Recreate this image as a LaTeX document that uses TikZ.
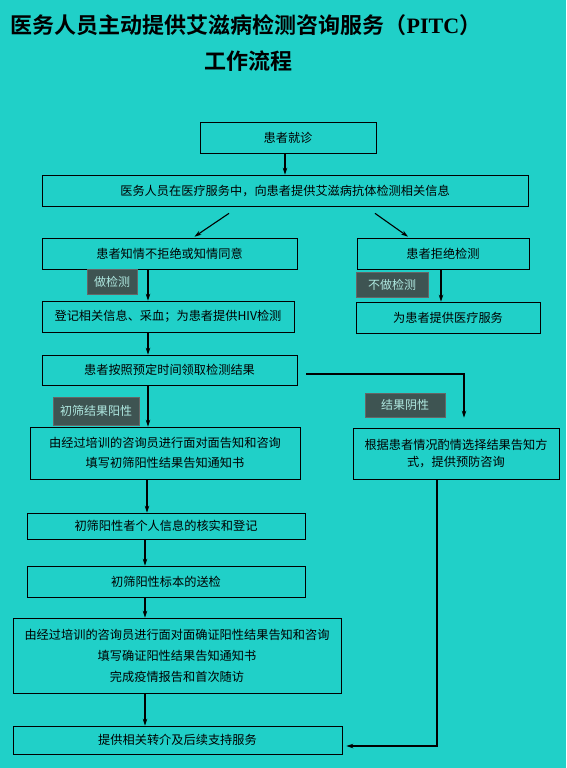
\documentclass[tikz,border=0pt]{standalone}
\usepackage{fontspec}
\setmainfont{Noto Sans CJK SC}[BoldFont={Noto Sans CJK SC Bold}]
\newfontfamily\latser{Liberation Serif}
\usetikzlibrary{arrows.meta,shadows,calc}
\definecolor{bg}{RGB}{32,208,200}
\definecolor{lblfill}{RGB}{62,84,82}
\definecolor{lbltext}{RGB}{175,232,224}
\begin{document}
\begin{tikzpicture}[x=1pt,y=-1pt,
  box/.style={draw=black, line width=0.7pt, fill=bg, inner sep=0pt,
    align=center, font=\fontsize{12.2}{18}\selectfont,
    drop shadow={shadow xshift=1.4pt, shadow yshift=-1.4pt, opacity=0.55, fill=black!70}},
  lbl/.style={draw=black!60, line width=0.4pt, fill=lblfill, text=lbltext, inner sep=0pt,
    font=\fontsize{12}{14}\selectfont},
  arr/.style={draw=black, line width=1.1pt, -{Stealth[length=7pt,width=4.5pt]}},
  ttl/.style={font=\fontsize{22}{26}\selectfont\bfseries, inner sep=0pt}]
\fill[bg] (0,0) rectangle (566,768);
\useasboundingbox (0,0) rectangle (566,768);

% title
\node[ttl] (t1) at (246,25) {医务人员主动提供艾滋病检测咨询服务（{\latser PITC}）};
\node[ttl] (t2) at (248,61) {工作流程};

% boxes
\node[box, minimum width=176pt, minimum height=31pt] (b1) at (288,137.5) {患者就诊};
\node[box, minimum width=486pt, minimum height=31pt] (b2) at (285,190.5) {医务人员在医疗服务中，向患者提供艾滋病抗体检测相关信息};
\node[box, minimum width=255pt, minimum height=31pt] (b3L) at (169.5,253.5) {患者知情不拒绝或知情同意};
\node[box, minimum width=172pt, minimum height=31pt] (b3R) at (443,253.5) {患者拒绝检测};
\node[box, minimum width=252pt, minimum height=31pt] (b4L) at (168,316.5) {登记相关信息、采血；为患者提供HIV检测};
\node[box, minimum width=184pt, minimum height=31pt] (b4R) at (448,317.5) {为患者提供医疗服务};
\node[box, minimum width=255pt, minimum height=30pt] (b5) at (169.5,370) {患者按照预定时间领取检测结果};
\node[box, minimum width=206pt, minimum height=51pt, font=\fontsize{12.2}{17.5}\selectfont] (b6R) at (456,453.5) {根据患者情况酌情选择结果告知方\\式，提供预防咨询};
\node[box, minimum width=270pt, minimum height=52pt, font=\fontsize{12.2}{20}\selectfont] (b7) at (165,453) {由经过培训的咨询员进行面对面告知和咨询\\填写初筛阳性结果告知通知书};
\node[box, minimum width=278pt, minimum height=26pt] (b8) at (166,526) {初筛阳性者个人信息的核实和登记};
\node[box, minimum width=278pt, minimum height=31pt] (b9) at (166,581.5) {初筛阳性标本的送检};
\node[box, minimum width=328pt, minimum height=75pt, font=\fontsize{12.2}{21}\selectfont] (b10) at (177,655.5) {由经过培训的咨询员进行面对面确证阳性结果告知和咨询\\填写确证阳性结果告知通知书\\完成疫情报告和首次随访};
\node[box, minimum width=329pt, minimum height=28pt] (b11) at (177.5,740) {提供相关转介及后续支持服务};

% labels
\node[lbl, minimum width=50pt, minimum height=25pt] (l1) at (112,282) {做检测};
\node[lbl, minimum width=72pt, minimum height=25pt] (l2) at (392,284.5) {不做检测};
\node[lbl, minimum width=86pt, minimum height=28pt] (l3) at (96,411) {初筛结果阳性};
\node[lbl, minimum width=80pt, minimum height=24pt] (l4) at (405,405) {结果阴性};

% connectors
\coordinate (spine) at (148,0);
\draw[arr] ([xshift=-3pt]b1.south) -- ([xshift=-3pt]b1.south |- b2.north);
\draw[arr] ([xshift=-56pt,yshift=-7pt]b2.south) -- ([xshift=25pt,yshift=1pt]b3L.north);
\draw[arr] ([xshift=90pt,yshift=-7pt]b2.south) -- ([xshift=-35pt,yshift=1pt]b3R.north);
\draw[arr] (b3L.south -| spine) -- (b4L.north -| spine);
\draw[arr] ([xshift=-2pt]b3R.south) -- ([xshift=-2pt]b3R.south |- b4R.north);
\draw[arr] (b4L.south -| spine) -- (b5.north -| spine);
\draw[arr] (b5.south -| spine) -- (b7.north -| spine);
\draw[arr] ([xshift=-1pt]b7.south -| spine) -- ([xshift=-1pt]b8.north -| spine);
\draw[arr] ([xshift=-3pt]b8.south -| spine) -- ([xshift=-3pt]b9.north -| spine);
\draw[arr] ([xshift=-3pt]b9.south -| spine) -- ([xshift=-3pt]b10.north -| spine);
\draw[arr] ([xshift=-3pt]b10.south -| spine) -- ([xshift=-3pt]b11.north -| spine);
\draw[arr, shorten <=9pt] ([yshift=-4pt]b5.east) -| ([xshift=8pt,yshift=10pt]b6R.north);
\draw[arr] ([xshift=-19pt]b6R.south) |- ([xshift=4pt,yshift=-6pt]b11.east);
\end{tikzpicture}
\end{document}
